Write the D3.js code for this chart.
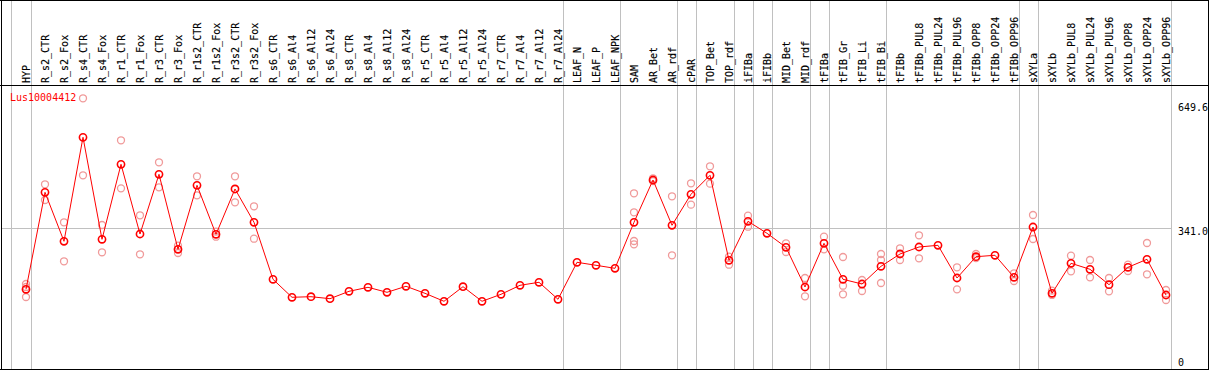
<!DOCTYPE html>
<html>
<head>
<meta charset="utf-8">
<script src="https://cdn.jsdelivr.net/npm/d3@7/dist/d3.min.js"></script>
<style>
html,body{margin:0;padding:0;background:#fff;}
svg{display:block;}
text{font-family:"DejaVu Sans Mono",monospace;font-size:10px;}
</style>
</head>
<body>
<svg id="chart" width="1209" height="370"></svg>
<script>
const categories = ["HYP","R_s2_CTR","R_s2_Fox","R_s4_CTR","R_s4_Fox","R_r1_CTR","R_r1_Fox","R_r3_CTR","R_r3_Fox","R_r1s2_CTR","R_r1s2_Fox","R_r3s2_CTR","R_r3s2_Fox","R_s6_CTR","R_s6_Al4","R_s6_Al12","R_s6_Al24","R_s8_CTR","R_s8_Al4","R_s8_Al12","R_s8_Al24","R_r5_CTR","R_r5_Al4","R_r5_Al12","R_r5_Al24","R_r7_CTR","R_r7_Al4","R_r7_Al12","R_r7_Al24","LEAF_N","LEAF_P","LEAF_NPK","SAM","AR_Bet","AR_rdf","cPAR","TOP_Bet","TOP_rdf","iFIBa","iFIBb","MID_Bet","MID_rdf","tFIBa","tFIB_Gr","tFIB_Li","tFIB_Bi","tFIBb","tFIBb_PUL8","tFIBb_PUL24","tFIBb_PUL96","tFIBb_OPP8","tFIBb_OPP24","tFIBb_OPP96","sXYLa","sXYLb","sXYLb_PUL8","sXYLb_PUL24","sXYLb_PUL96","sXYLb_OPP8","sXYLb_OPP24","sXYLb_OPP96"];

const meanValues = [184.4,431.5,306.7,571.7,311.8,502.9,325.3,477.4,286.3,449.4,324.5,440.0,355.1,209.9,164.1,165.6,160.5,179.3,189.5,176.8,192.1,174.2,153.9,191.1,153.9,171.7,194.6,202.3,159.0,253.2,245.6,237.9,355.1,462.9,347.5,426.5,474.9,258.3,357.7,327.1,291.4,190.3,301.6,209.9,197.9,243.0,274.4,292.2,296.5,213.2,267.5,271.1,215.0,343.1,174.2,250.7,235.4,196.2,240.5,260.9,169.9];

const replicateValues = [
  [198.0,190.3,164.8],[451.9,411.9],[355.1,255.8],[671.0,474.9],[348.2,278.7],[564.0,441.7],[373.0,273.6],[508.0,444.3],[295.5,276.9],[472.3,423.9],[331.2,318.4],[472.3,406.1],[395.9,313.3],
  [],[],[],[],[],[],[],[],[],[],[],[],[],[],[],[],
  [],[],[],
  [429.0,380.6,307.5,299.1],[467.2,460.0],[421.4,271.1],[454.5,400.0],[497.8,453.5],[267.5,247.1],[371.9,343.9],[],[301.6,279.5],[213.2,166.6],[318.4,286.3],[266.7,193.6,171.7],[208.1,180.1],[274.4,259.1,200.5],
  [288.9,259.1],[322.0,263.4],[],[240.5,184.4],[274.4,264.0],[],[225.2,205.6],[373.7,312.6],[180.9,170.0],[270.0,230.3],[259.1,215.0],[213.2,179.3],[247.1,231.1],[302.4,222.7],[182.7,157.2]
];

const groupEnds = ["HYP","R_r7_Al24","LEAF_NPK","AR_rdf","cPAR","TOP_rdf","iFIBa","iFIBb","MID_rdf","tFIBa","tFIB_Bi","tFIBb_OPP96","sXYLa","sXYLb_OPP96"];
const yTicks = [649.6, 341.0, 0];
const geneLabel = "Lus10004412";

const svg = d3.select("#chart");
const x = d3.scalePoint().domain(categories).range([26, 1166]);
const y = d3.scaleLinear().domain([0, 649.6]).range([361.7, 106.7]);

const grey = "#c0c0c0";
// vertical group separators
const sepXs = [x(categories[0]) - 15].concat(groupEnds.map(c => x(c) + 4.5));
svg.selectAll("line.sep").data(sepXs).enter().append("line")
  .attr("x1", d => Math.round(d) + 0.5).attr("x2", d => Math.round(d) + 0.5)
  .attr("y1", 0).attr("y2", 370)
  .attr("stroke", grey).attr("stroke-width", 1);

// horizontal grid at middle tick
svg.append("line")
  .attr("x1", 1).attr("x2", Math.round(x(categories[categories.length-1]) + 4.5) + 0.5)
  .attr("y1", Math.round(y(341.0)) + 0.5).attr("y2", Math.round(y(341.0)) + 0.5)
  .attr("stroke", grey).attr("stroke-width", 1);

// replicate points
const reps = [];
replicateValues.forEach((arr, i) => arr.forEach(v => reps.push({c: categories[i], v})));
svg.selectAll("circle.rep").data(reps).enter().append("circle")
  .attr("cx", d => x(d.c)).attr("cy", d => y(d.v)).attr("r", 3.5)
  .attr("fill", "none").attr("stroke", "#f09a9a").attr("stroke-width", 1.3);

// mean line
const line = d3.line().x((d, i) => x(categories[i])).y(d => y(d));
svg.append("path").datum(meanValues).attr("d", line)
  .attr("fill", "none").attr("stroke", "#ff0000").attr("stroke-width", 1);

svg.selectAll("circle.mean").data(meanValues).enter().append("circle")
  .attr("cx", (d, i) => x(categories[i])).attr("cy", d => y(d)).attr("r", 3.6)
  .attr("fill", "none").attr("stroke", "#ff0000").attr("stroke-width", 1.6);

// header labels
svg.selectAll("text.cat").data(categories).enter().append("text")
  .attr("transform", d => `translate(${x(d) + 4.3},83) rotate(-90)`)
  .attr("text-anchor", "start").attr("fill", "#000")
  .attr("stroke", "#000").attr("stroke-width", 0.15)
  .text(d => d);

// gene label
svg.append("text").attr("x", 10).attr("y", 101).attr("fill", "#ff0000").text(geneLabel);

// y tick labels
svg.selectAll("text.yt").data(yTicks).enter().append("text")
  .attr("x", 1178)
  .attr("y", d => y(d) + (d === 341.0 ? 7 : 3.8))
  .attr("fill", "#000").text(d => d === 0 ? "0" : d.toFixed(1));

// borders
const black = "#000";
svg.append("line").attr("x1",0).attr("x2",1209).attr("y1",0.5).attr("y2",0.5).attr("stroke",black).attr("stroke-width",1);
svg.append("line").attr("x1",0).attr("x2",1209).attr("y1",85.5).attr("y2",85.5).attr("stroke",black).attr("stroke-width",1);
svg.append("line").attr("x1",0).attr("x2",1209).attr("y1",369.5).attr("y2",369.5).attr("stroke",black).attr("stroke-width",1);
svg.append("line").attr("x1",1.5).attr("x2",1.5).attr("y1",0).attr("y2",370).attr("stroke",black).attr("stroke-width",1);
svg.append("line").attr("x1",1208.5).attr("x2",1208.5).attr("y1",0).attr("y2",370).attr("stroke",black).attr("stroke-width",1);
</script>
</body>
</html>
